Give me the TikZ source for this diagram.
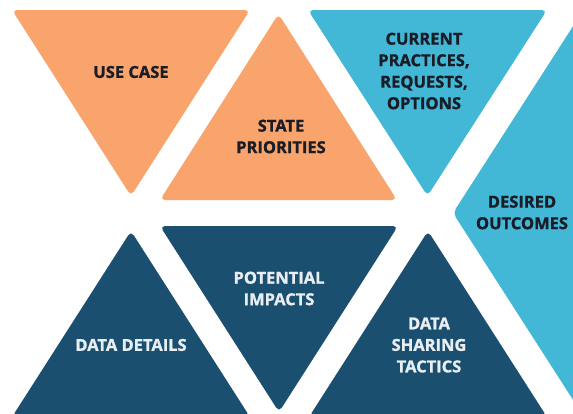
\documentclass[tikz,border=0pt]{standalone}
\usepackage{fontspec}
\setmainfont{Open Sans}[BoldFeatures={FakeBold=1.2}]
\definecolor{orangeT}{RGB}{248,164,108}
\definecolor{cyanT}{RGB}{66,183,214}
\definecolor{navyT}{RGB}{27,79,112}
\definecolor{darkTxt}{RGB}{26,28,38}
\definecolor{lightTxt}{RGB}{232,238,242}
\tikzset{
  tri/.style={rounded corners=5pt},
  lbl/.style={font=\bfseries\fontsize{16.5}{21.5}\selectfont, align=center, inner sep=0pt},
  lbldark/.style={lbl, text=darkTxt},
  lbllight/.style={lbl, text=lightTxt}
}
\begin{document}
\begin{tikzpicture}[x=1pt,y=-1pt]
\useasboundingbox (0,0) rectangle (573,413);
\fill[white] (0,0) rectangle (573,413);
\clip (0,0) rectangle (573,413);
% top row
\fill[orangeT,tri] (12,10) -- (250,10) -- (131,196) -- cycle;
\fill[orangeT,tri] (160,200) -- (278.5,14) -- (397,200) -- cycle;
\fill[cyanT,tri] (308,10) -- (547,10) -- (427.5,196) -- cycle;
\fill[cyanT,tri] (453,213) -- (692,-159) -- (692,585) -- cycle;
% bottom row
\fill[navyT,tri] (12,417) -- (131,231) -- (250,417) -- cycle;
\fill[navyT,tri] (160,226) -- (398,226) -- (279,412) -- cycle;
\fill[navyT,tri] (309,417) -- (428,231) -- (547,417) -- cycle;
% labels
\node[lbldark] (usecase) at (131,72) {USE CASE};
\node[lbldark] (state) at (281,136.5) {STATE\\PRIORITIES};
\node[lbldark] (current) at (424,71) {CURRENT\\PRACTICES,\\REQUESTS,\\OPTIONS};
\node[lbldark] (desired) at (522,212.5) {DESIRED\\OUTCOMES};
\node[lbllight] (details) at (131,345) {DATA DETAILS};
\node[lbllight] (impacts) at (279,288.5) {POTENTIAL\\IMPACTS};
\node[lbllight] (sharing) at (429,345) {DATA\\SHARING\\TACTICS};
\end{tikzpicture}
\end{document}
